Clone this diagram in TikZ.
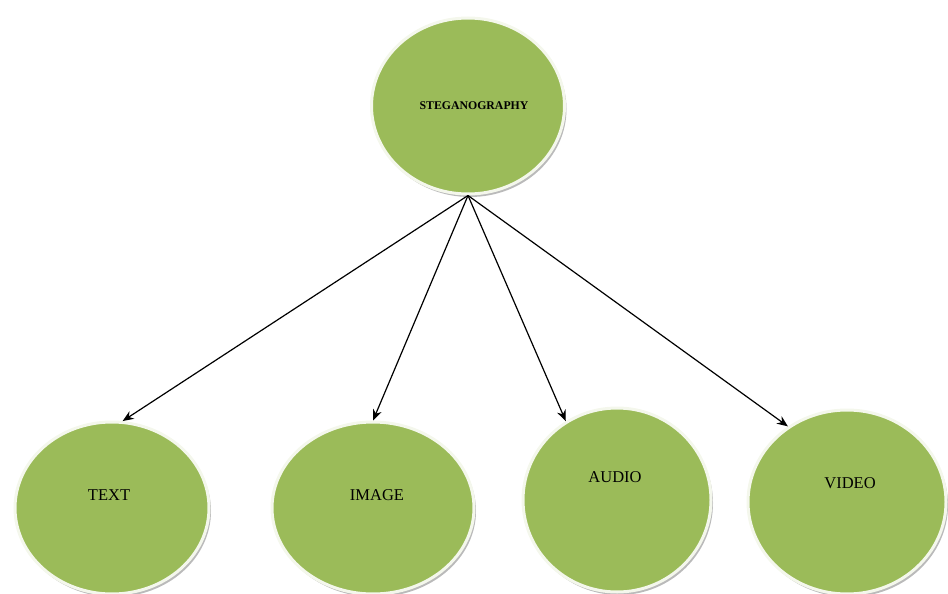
\documentclass[tikz,border=0pt]{standalone}
\usepackage{fontspec}
\setmainfont{Liberation Serif}
\usetikzlibrary{shapes.geometric,arrows.meta,shadows}
\definecolor{olivefill}{HTML}{9BBB59}
\definecolor{rim}{HTML}{F4F7EC}
\begin{document}
\begin{tikzpicture}[x=1pt,y=-1pt,
  bubble/.style={ellipse, fill=olivefill, draw=rim, line width=3pt, inner sep=0pt,
    drop shadow={shadow xshift=2pt,shadow yshift=-3pt,opacity=0.45,fill=black!60}},
  lbl/.style={font=\fontsize{16.5}{16.5}\selectfont, text=black},
  arr/.style={-{Stealth[length=11pt,width=9pt]}, line width=1.2pt}]
\useasboundingbox (0,0) rectangle (948,594);
\node[bubble, minimum width=193pt, minimum height=176pt] (steg) at (468,106) {};
\node[bubble, minimum width=194pt, minimum height=172pt] (text) at (112,508) {};
\node[bubble, minimum width=202pt, minimum height=172pt] (image) at (373,508) {};
\node[bubble, minimum width=188pt, minimum height=184pt] (audio) at (617,500) {};
\node[bubble, minimum width=198pt, minimum height=184pt] (video) at (847,502) {};
\node[font=\bfseries\fontsize{11.8}{11.8}\selectfont, text=black] (stegl) at (474,106) {STEGANOGRAPHY};
\node[lbl] (textl) at (109,495) {TEXT};
\node[lbl] (imagel) at (377,495) {IMAGE};
\node[lbl] (audiol) at (615,477) {AUDIO};
\node[lbl] (videol) at (850,483) {VIDEO};
\draw[arr] (steg.south) -- (text.83);
\draw[arr] (steg.south) -- (image.90);
\draw[arr] (steg.south) -- (audio.123);
\draw[arr] (steg.south) -- (video.128);
\end{tikzpicture}
\end{document}
